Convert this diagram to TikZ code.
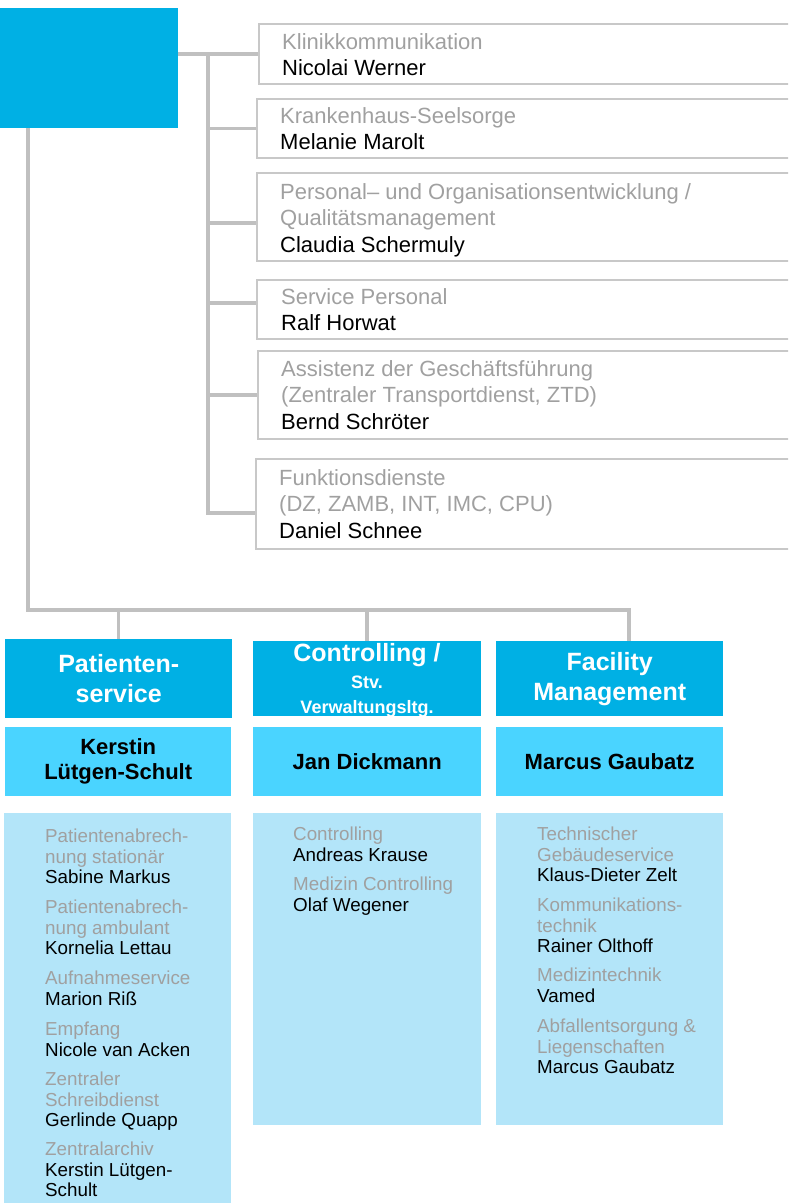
\documentclass[tikz,border=0pt]{standalone}
\usepackage{fontspec}
\setmainfont{Liberation Sans}
\usetikzlibrary{calc}
\definecolor{hblue}{RGB}{0,176,228}
\definecolor{nblue}{RGB}{74,212,255}
\definecolor{pblue}{RGB}{179,229,249}
\definecolor{conng}{RGB}{192,192,192}
\definecolor{boxg}{RGB}{200,200,200}
\definecolor{lg}{RGB}{160,160,160}
\newcommand{\grtxt}[1]{\textcolor{lg}{#1}}
\begin{document}
\begin{tikzpicture}[x=1pt,y=-1pt,
  conn/.style={draw=conng,line width=3.5pt},
  rbox/.style={draw=boxg,line width=2pt,anchor=north west,minimum width=600pt,inner sep=0pt},
  rtxt/.style={anchor=north west,inner sep=0pt,align=left,font=\fontsize{22}{26.5}\selectfont},
  etxt/.style={anchor=north west,inner sep=0pt,align=left,font=\fontsize{18.8}{20.5}\selectfont},
  hbox/.style={fill=hblue,anchor=north west,inner sep=0pt,text=white,align=center,font=\bfseries\fontsize{25}{30}\selectfont},
  htxt/.style={anchor=base,inner sep=0pt,text=white},
  nbox/.style={fill=nblue,anchor=north west,inner sep=0pt,align=center,font=\bfseries\fontsize{22}{25}\selectfont},
  pbox/.style={fill=pblue,anchor=north west,inner sep=0pt},
]
\useasboundingbox (0,0) rectangle (788,1203);
\clip (0,0) rectangle (788,1203);

% top box
\node[fill=hblue,anchor=north west,minimum width=178pt,minimum height=120pt,inner sep=0pt] (gf) at (0,8) {};

% right staff boxes
\node[rbox,minimum height=60pt] (r1) at (258,23) {};
\node[rbox,minimum height=59pt] (r2) at (256,98) {};
\node[rbox,minimum height=88pt] (r3) at (256,172) {};
\node[rbox,minimum height=59pt] (r4) at (256,279) {};
\node[rbox,minimum height=88pt] (r5) at (257,350) {};
\node[rbox,minimum height=90pt] (r6) at (255,458) {};

\node[rtxt] (t1) at (282,33) {\grtxt{Klinikkommunikation}\\Nicolai Werner};
\node[rtxt] (t2) at (280,107) {\grtxt{Krankenhaus-Seelsorge}\\Melanie Marolt};
\node[rtxt] (t3) at (280,183) {\grtxt{Personal– und Organisationsentwicklung /}\\\grtxt{Qualitätsmanagement}\\Claudia Schermuly};
\node[rtxt] (t4) at (281,288) {\grtxt{Service Personal}\\Ralf Horwat};
\node[rtxt] (t5) at (281,360) {\grtxt{Assistenz der Geschäftsführung}\\\grtxt{(Zentraler Transportdienst, ZTD)}\\Bernd Schröter};
\node[rtxt] (t6) at (279,469) {\grtxt{Funktionsdienste}\\\grtxt{(DZ, ZAMB, INT, IMC, CPU)}\\Daniel Schnee};

% staff connectors
\coordinate (tr) at (208,0);
\coordinate (b3) at ($(r3.west)+(0,6)$);
\coordinate (b4) at ($(r4.west)+(0,-6.5)$);
\coordinate (b6) at ($(r6.west)+(0,9)$);
\draw[conn] (gf.east |- r1.west) -- (r1.west);
\draw[conn] (tr |- r1.west) -- (tr |- b6) -- (b6);
\draw[conn] (tr |- r2.west) -- (r2.west);
\draw[conn] (tr |- b3) -- (b3);
\draw[conn] (tr |- b4) -- (b4);
\draw[conn] (tr |- r5.west) -- (r5.west);

% department headers
\node[hbox,minimum width=227pt,minimum height=79pt] (ph) at (5,639) {Patienten-\\service};
\node[fill=hblue,anchor=north west,inner sep=0pt,minimum width=228pt,minimum height=75pt] (ch) at (253,641) {};
\node[htxt,font=\bfseries\fontsize{25}{30}\selectfont] (ch1) at (367,661.5) {Controlling /};
\node[htxt,font=\bfseries\fontsize{18}{22}\selectfont] (ch2) at (367,688) {Stv.};
\node[htxt,font=\bfseries\fontsize{18}{22}\selectfont] (ch3) at (367,713.5) {Verwaltungsltg.};
\node[hbox,minimum width=227pt,minimum height=75pt] (fh) at (496,641) {Facility\\Management};

% department connectors
\coordinate (busL) at (28,610);
\coordinate (busR) at (629,610);
\draw[conn] (gf.south -| busL) -- (busL) -- (busR) -- (busR |- fh.north);
\draw[conn] (ph.north |- busL) -- (ph.north);
\draw[conn] (ch.north |- busL) -- (ch.north);

% heads
\node[nbox,minimum width=226pt,minimum height=69pt] (pn) at (5,727) {Kerstin\\Lütgen-Schult};
\node[nbox,minimum width=228pt,minimum height=69pt] (cn) at (253,727) {Jan Dickmann};
\node[nbox,minimum width=227pt,minimum height=69pt] (fn) at (496,727) {Marcus Gaubatz};

% sub units
\node[pbox,minimum width=227pt,minimum height=400pt] (pp) at (4,813) {};
\node[pbox,minimum width=228pt,minimum height=312pt] (cp) at (253,813) {};
\node[pbox,minimum width=227pt,minimum height=312pt] (fp) at (496,813) {};

\node[etxt] (p1) at (45,829) {\grtxt{Patientenabrech-}\\\grtxt{nung stationär}\\Sabine Markus};
\node[etxt] (p2) at (45,900) {\grtxt{Patientenabrech-}\\\grtxt{nung ambulant}\\Kornelia Lettau};
\node[etxt] (p3) at (45,971) {\grtxt{Aufnahmeservice}\\Marion Riß};
\node[etxt] (p4) at (45,1022) {\grtxt{Empfang}\\Nicole van Acken};
\node[etxt] (p5) at (45,1072) {\grtxt{Zentraler}\\\grtxt{Schreibdienst}\\Gerlinde Quapp};
\node[etxt] (p6) at (45,1142) {\grtxt{Zentralarchiv}\\Kerstin Lütgen-\\Schult};

\node[etxt] (c1) at (293,827) {\grtxt{Controlling}\\Andreas Krause};
\node[etxt] (c2) at (293,877) {\grtxt{Medizin Controlling}\\Olaf Wegener};

\node[etxt] (f1) at (537,827) {\grtxt{Technischer}\\\grtxt{Gebäudeservice}\\Klaus-Dieter Zelt};
\node[etxt] (f2) at (537,898) {\grtxt{Kommunikations-}\\\grtxt{technik}\\Rainer Olthoff};
\node[etxt] (f3) at (537,968) {\grtxt{Medizintechnik}\\Vamed};
\node[etxt] (f4) at (537,1019) {\grtxt{Abfallentsorgung \&}\\\grtxt{Liegenschaften}\\Marcus Gaubatz};
\end{tikzpicture}
\end{document}
